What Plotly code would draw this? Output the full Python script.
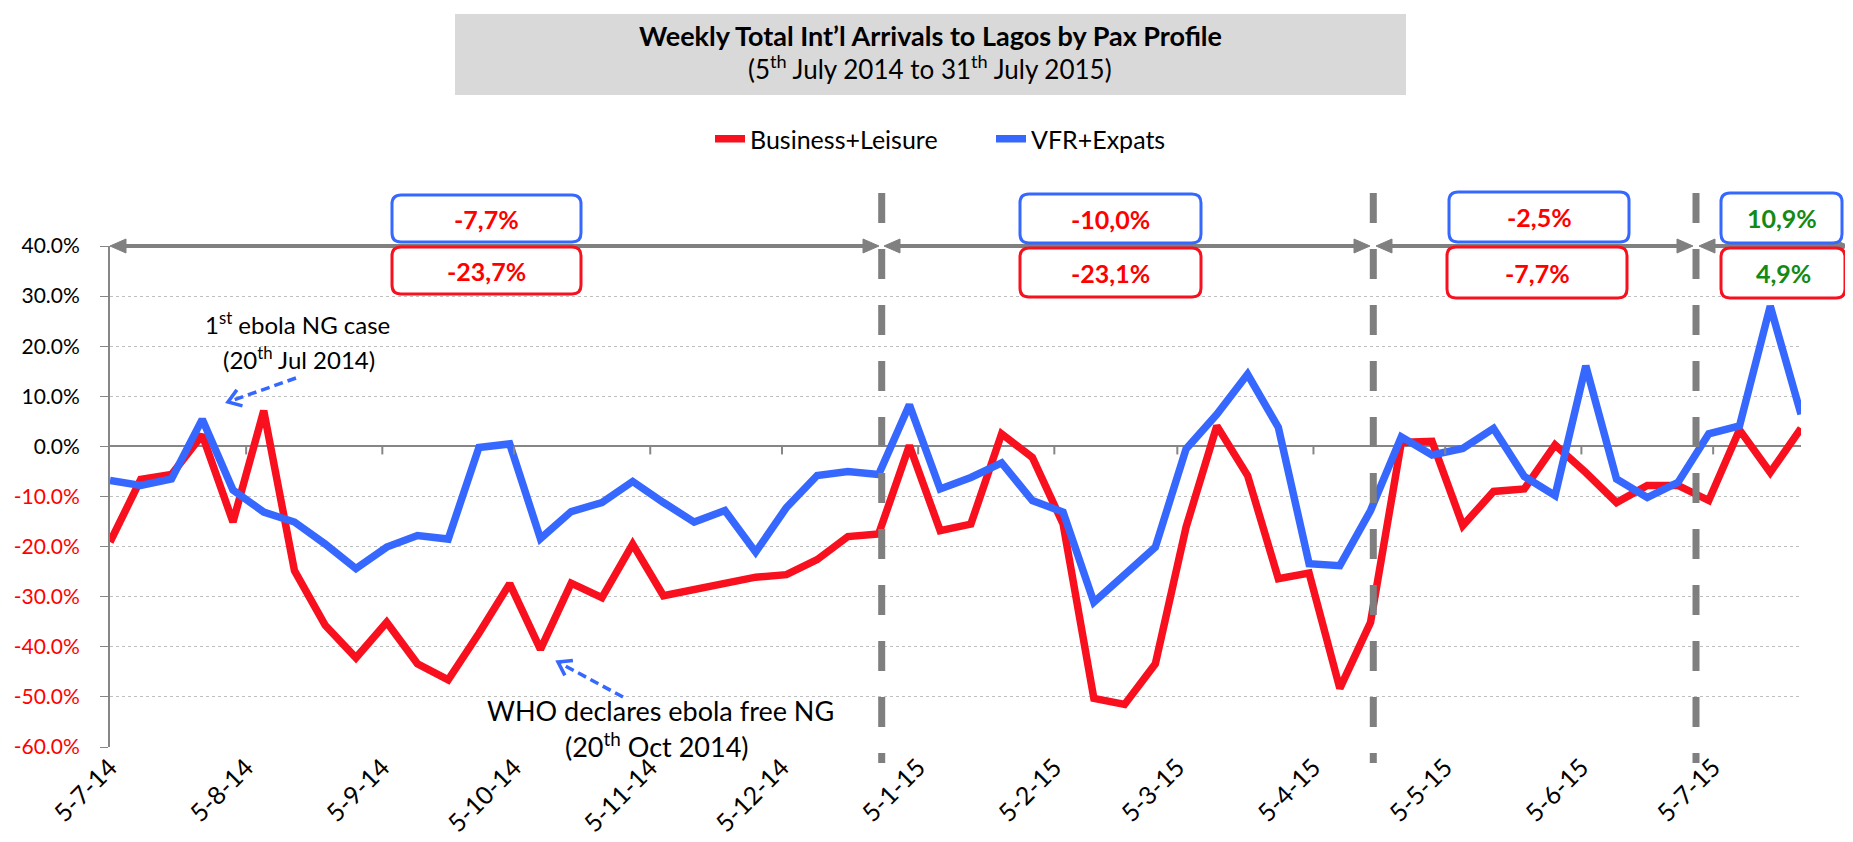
import math
import pandas as pd
import plotly.graph_objects as go

# weekly observations, first week ending 5 Jul 2014
weeks = pd.date_range("2014-07-05", periods=56, freq="7D")

business_leisure = [
    -19.1, -6.6, -5.6, 2.3, -15.1, 7.1, -24.8, -35.7, -42.2, -35.1,
    -43.4, -46.6, -37.3, -27.4, -40.5, -27.3, -30.2, -19.5, -29.8, -28.6,
    -27.3, -26.1, -25.6, -22.6, -18.0, -17.5, 0.2, -16.8, -15.5, 2.5,
    -2.2, -15.5, -50.3, -51.5, -43.4, -16.1, 4.1, -5.8, -26.4, -25.3,
    -48.3, -35.1, 0.8, 1.0, -15.8, -9.0, -8.5, 0.3, -5.2, -11.2,
    -7.8, -7.8, -10.8, 3.3, -5.2, 3.6,
]
vfr_expats = [
    -6.8, -7.8, -6.5, 5.4, -8.7, -13.1, -15.1, -19.5, -24.4, -20.1,
    -17.8, -18.5, -0.2, 0.5, -18.4, -13.0, -11.2, -7.0, -11.2, -15.1,
    -12.8, -21.1, -12.2, -5.8, -5.0, -5.6, 8.3, -8.5, -6.2, -3.3,
    -10.8, -13.1, -31.1, -25.4, -20.1, -0.5, 6.4, 14.4, 3.8, -23.4,
    -23.8, -12.8, 1.9, -1.7, -0.4, 3.6, -6.0, -9.8, 16.1, -6.5,
    -10.2, -7.2, 2.5, 4.1, 28.0, 6.4,
]

y_ticks = [40, 30, 20, 10, 0, -10, -20, -30, -40, -50, -60]

# period averages shown in the boxes (VFR on top, Business below)
period_vfr = ["-7,7%", "-10,0%", "-2,5%", "10,9%"]
period_bl = ["-23,7%", "-23,1%", "-7,7%", "4,9%"]

RED = "#F8101E"
BLUE = "#3668FF"
GREY = "#808080"
FONT = "Lato, 'Open Sans', sans-serif"

# page body adds an 8px margin, so the figure is a bit smaller than the window
W, H = 1845, 834
L, R, T, B = 110, 1801, 246, 747   # plot area in window pixels


def px_x(px):
    return (px - L) / (R - L)


def px_y(py):
    return (B - py) / (B - T)


def make_path(points, close=True):
    s = "M" + " L".join(f"{px_x(x):.5f},{px_y(y):.5f}" for x, y in points)
    return s + (" Z" if close else "")


def rounded_box(x0, y0, x1, y1, r=9):
    pts = [
        ("M", x0 + r, y0), ("L", x1 - r, y0), ("Q", x1, y0, x1, y0 + r),
        ("L", x1, y1 - r), ("Q", x1, y1, x1 - r, y1), ("L", x0 + r, y1),
        ("Q", x0, y1, x0, y1 - r), ("L", x0, y0 + r), ("Q", x0, y0, x0 + r, y0),
    ]
    path = ""
    for p in pts:
        cmd, coords = p[0], p[1:]
        xy = []
        for i in range(0, len(coords), 2):
            xy.append(f"{px_x(coords[i]):.5f},{px_y(coords[i + 1]):.5f}")
        path += cmd + " ".join(xy) + " "
    return path + "Z"


def tick_label(v):
    s = f"{v:.1f}%"
    if v < 0:
        return f"<span style='color:#FF0000'>{s}</span>"
    return s


fig = go.Figure()
fig.add_trace(go.Scatter(x=weeks, y=business_leisure, name="Business+Leisure",
                         mode="lines", line=dict(color=RED, width=7.5)))
fig.add_trace(go.Scatter(x=weeks, y=vfr_expats, name="VFR+Expats",
                         mode="lines", line=dict(color=BLUE, width=7.5)))

fig.update_layout(
    width=W, height=H,
    margin=dict(l=L - 8, r=1853 - R, t=T - 8, b=842 - B),
    plot_bgcolor="white", paper_bgcolor="white",
    font=dict(family=FONT, size=22, color="black"),
    showlegend=True,
    legend=dict(orientation="h", x=px_x(710), xanchor="left",
                y=px_y(139), yanchor="middle", font=dict(size=25),
                entrywidth=236, entrywidthmode="pixels",
                bgcolor="rgba(0,0,0,0)"),
)

fig.update_xaxes(
    type="date", range=[weeks[0], weeks[-1]],
    tick0="2014-07-05", dtick="M1", tickformat="%-d-%-m-%y",
    tickangle=-45, tickfont=dict(size=25), ticks="", showgrid=False,
    showline=False, zeroline=False, automargin=False, ticklabelstandoff=0,
)
fig.update_yaxes(
    range=[-60, 40], tickvals=y_ticks, ticktext=[tick_label(v) for v in y_ticks],
    tickfont=dict(size=21), showgrid=True, gridcolor="#BFBFBF", griddash="dot",
    gridwidth=1, zeroline=True, zerolinecolor="#868686", zerolinewidth=2,
    showline=True, linecolor="#868686", linewidth=2, ticks="outside",
    ticklen=8, tickcolor="#868686", automargin=False, ticklabelstandoff=16,
)

# small ticks on the zero line
for d in pd.date_range("2014-08-05", "2015-07-05", freq=pd.DateOffset(months=1)):
    fig.add_shape(type="line", xref="x", yref="y", x0=d, x1=d, y0=0, y1=-1.6,
                  line=dict(color="#868686", width=2))

# title box
fig.add_shape(type="rect", xref="paper", yref="paper",
              x0=px_x(455), x1=px_x(1406), y0=px_y(95), y1=px_y(14),
              fillcolor="#D9D9D9", line=dict(width=0), layer="below")
fig.add_annotation(xref="paper", yref="paper", x=px_x(930), y=px_y(35),
                   text="<b>Weekly Total Int’l Arrivals to Lagos by Pax Profile</b>",
                   showarrow=False, font=dict(size=27), xanchor="center", yanchor="middle")
fig.add_annotation(xref="paper", yref="paper", x=px_x(930), y=px_y(68),
                   text="(5<sup>th</sup> July 2014 to 31<sup>th</sup> July 2015)",
                   showarrow=False, font=dict(size=26), xanchor="center", yanchor="middle")

# period separators
for bx in [881.7, 1373.3, 1696]:
    fig.add_shape(type="line", xref="paper", yref="paper",
                  x0=px_x(bx), x1=px_x(bx), y0=px_y(193), y1=px_y(763),
                  line=dict(color="#7F7F7F", width=7, dash="30px,26px"), layer="above")

# double arrows along the 40% line
ay = 246
for a, b in [(110, 879), (884, 1370), (1376, 1693), (1699, 1849)]:
    fig.add_shape(type="line", xref="paper", yref="paper",
                  x0=px_x(a + 12), x1=px_x(b - 12), y0=px_y(ay), y1=px_y(ay),
                  line=dict(color=GREY, width=4), layer="above")
    for tip, back in [(a, a + 16), (b, b - 16)]:
        fig.add_shape(type="path", xref="paper", yref="paper",
                      path=make_path([(tip, ay), (back, ay - 7), (back, ay + 7)]),
                      fillcolor=GREY, line=dict(color=GREY, width=1), layer="above")

# period boxes
boxes = [
    ((392, 195, 581, 242), (392, 247, 581, 294)),
    ((1020, 194, 1201, 243), (1020, 248, 1201, 297)),
    ((1449, 192, 1629, 242), (1447, 247, 1627, 298)),
    ((1721, 193, 1842, 243), (1721, 248, 1845, 298)),
]
for i, (top, bot) in enumerate(boxes):
    txt_color = "#138A13" if i == 3 else "#FF0000"
    for rect, border, label in [(top, BLUE, period_vfr[i]), (bot, RED, period_bl[i])]:
        fig.add_shape(type="path", xref="paper", yref="paper", path=rounded_box(*rect),
                      fillcolor="white", line=dict(color=border, width=3), layer="above")
        fig.add_annotation(xref="paper", yref="paper",
                           x=px_x((rect[0] + rect[2]) / 2), y=px_y((rect[1] + rect[3]) / 2),
                           text=f"<b>{label}</b>", showarrow=False,
                           font=dict(size=25, color=txt_color),
                           xanchor="center", yanchor="middle")

# event notes with dashed arrows
notes = [
    ("1<sup>st</sup> ebola NG case", 297, 323, "(20<sup>th</sup> Jul 2014)", 299, 358,
     24, (296, 378), (228, 402)),
    ("WHO declares ebola free NG", 660, 710, "(20<sup>th</sup> Oct 2014)", 657, 745,
     27, (623, 697), (558, 662)),
]
for l1, x1, y1, l2, x2, y2, size, tail, head in notes:
    fig.add_annotation(xref="paper", yref="paper", x=px_x(x1), y=px_y(y1), text=l1,
                       showarrow=False, font=dict(size=size),
                       xanchor="center", yanchor="middle")
    fig.add_annotation(xref="paper", yref="paper", x=px_x(x2), y=px_y(y2), text=l2,
                       showarrow=False, font=dict(size=size),
                       xanchor="center", yanchor="middle")
    dx, dy = tail[0] - head[0], tail[1] - head[1]
    ang = math.atan2(dy, dx)
    fig.add_shape(type="line", xref="paper", yref="paper",
                  x0=px_x(tail[0]), y0=px_y(tail[1]),
                  x1=px_x(head[0] + 3 * math.cos(ang)), y1=px_y(head[1] + 3 * math.sin(ang)),
                  line=dict(color=BLUE, width=3.5, dash="9px,5px"))
    arms = []
    for da in (0.6, -0.6):
        arms.append((head[0] + 15 * math.cos(ang + da), head[1] + 15 * math.sin(ang + da)))
    fig.add_shape(type="path", xref="paper", yref="paper",
                  path=make_path([arms[0], head, arms[1]], close=False),
                  line=dict(color=BLUE, width=3.5))

fig.write_html("out.html")
